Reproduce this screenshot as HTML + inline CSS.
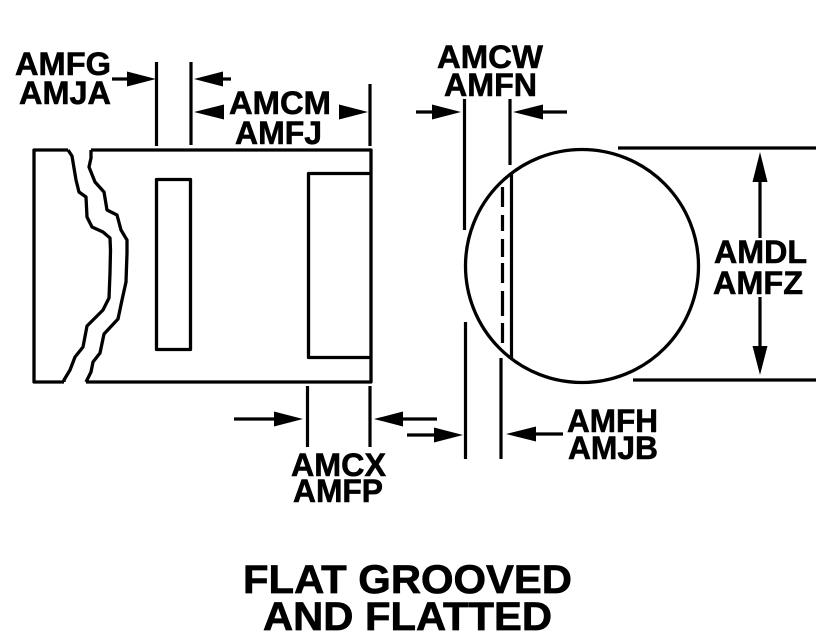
<!DOCTYPE html>
<html>
<head>
<meta charset="utf-8">
<style>
html,body{margin:0;padding:0;background:#fff;width:824px;height:643px;overflow:hidden}
svg{display:block}
text{font-family:"Liberation Sans",Arial,sans-serif;font-weight:bold;font-size:32.500px;fill:#000;stroke:#000;stroke-width:.6px}
.t{font-size:40px;stroke-width:.7px}
</style>
</head>
<body>
<svg width="824" height="643" viewBox="0 0 824 643" xmlns="http://www.w3.org/2000/svg">
<rect width="824" height="643" fill="#fff"/>
<g fill="none" stroke="#000" stroke-width="3.300" stroke-linejoin="round">
<path d="M68 150H34V382H64"/>
<path d="M91 150H371V382H86"/>
<path d="M68 150L72 156L73 162L76 180L79 192L86 197L87 217L92 227L103 232L110 238L110.5 250L110 273L109 298L103 310L87 326L83 347L75 357L70 370L64 380V382"/>
<path d="M91 150V158L89 167L95 182L104 192L107 210L117 215L121 230L127 240L127 253L126 282L122 300L118 319L104 334L100 353L93 362L91 372L86 382"/>
<rect x="156.500" y="179.500" width="34" height="170"/>
<path d="M371 173.500H308.500V357.500H371"/>
<circle cx="582" cy="266" r="116.500"/>
</g>
<g stroke="#000" stroke-width="3.200" fill="none">
<path d="M156.500 62V146M191 62V145M370 84V146"/>
<path d="M307.500 386V447M370 386V447"/>
<path d="M464.500 99V230M510 99V165M511.500 173V358"/>
<path d="M465.500 322V459M501 358V459"/>
<path d="M618 148H816M633 380H816"/>
<path d="M502.500 187V207M502.500 215V231M502.500 239V257M502.500 263V283M502.500 291V316M502.500 323V343"/>
<path d="M112 79H128M213 79H231"/>
<path d="M234 419H275M403 419H437M407 435H435M536 434H563"/>
<path d="M416 112H433M543 112H567"/>
<path d="M760 182V238M760 297V347"/>
</g>
<g fill="#000">
<path d="M156 79L127 71.500V86.500Z"/>
<path d="M194 79L223 71.500V86.500Z"/>
<path d="M194 112L224 104.500V119.500Z"/>
<path d="M368 112L339 104.500V119.500Z"/>
<path d="M461 112L432 104.500V119.500Z"/>
<path d="M513 112L543 104.500V119.500Z"/>
<path d="M303 419L274 411.500V426.500Z"/>
<path d="M374 419L403 411.500V426.500Z"/>
<path d="M463 435L434 427.500V442.500Z"/>
<path d="M506 434L536 426.500V441.500Z"/>
<path d="M760 152L752.500 182H767.500Z"/>
<path d="M760 375L752.500 346H767.500Z"/>
</g>
<text x="15" y="75" textLength="96" lengthAdjust="spacingAndGlyphs">AMFG</text>
<text x="19" y="104" textLength="92" lengthAdjust="spacingAndGlyphs">AMJA</text>
<text x="229" y="114" textLength="102" lengthAdjust="spacingAndGlyphs">AMCM</text>
<text x="235" y="144" textLength="87" lengthAdjust="spacingAndGlyphs">AMFJ</text>
<text x="437" y="68" textLength="106" lengthAdjust="spacingAndGlyphs">AMCW</text>
<text x="444" y="96" textLength="93" lengthAdjust="spacingAndGlyphs">AMFN</text>
<text x="714" y="263" textLength="93" lengthAdjust="spacingAndGlyphs">AMDL</text>
<text x="713" y="294" textLength="90" lengthAdjust="spacingAndGlyphs">AMFZ</text>
<text x="567" y="432" textLength="91" lengthAdjust="spacingAndGlyphs">AMFH</text>
<text x="568" y="459" textLength="90" lengthAdjust="spacingAndGlyphs">AMJB</text>
<text x="291" y="476" textLength="95" lengthAdjust="spacingAndGlyphs">AMCX</text>
<text x="293" y="502" textLength="90" lengthAdjust="spacingAndGlyphs">AMFP</text>
<text class="t" x="243" y="593" textLength="329" lengthAdjust="spacingAndGlyphs">FLAT GROOVED</text>
<text class="t" x="263" y="630" textLength="289" lengthAdjust="spacingAndGlyphs">AND FLATTED</text>
</svg>
</body>
</html>
